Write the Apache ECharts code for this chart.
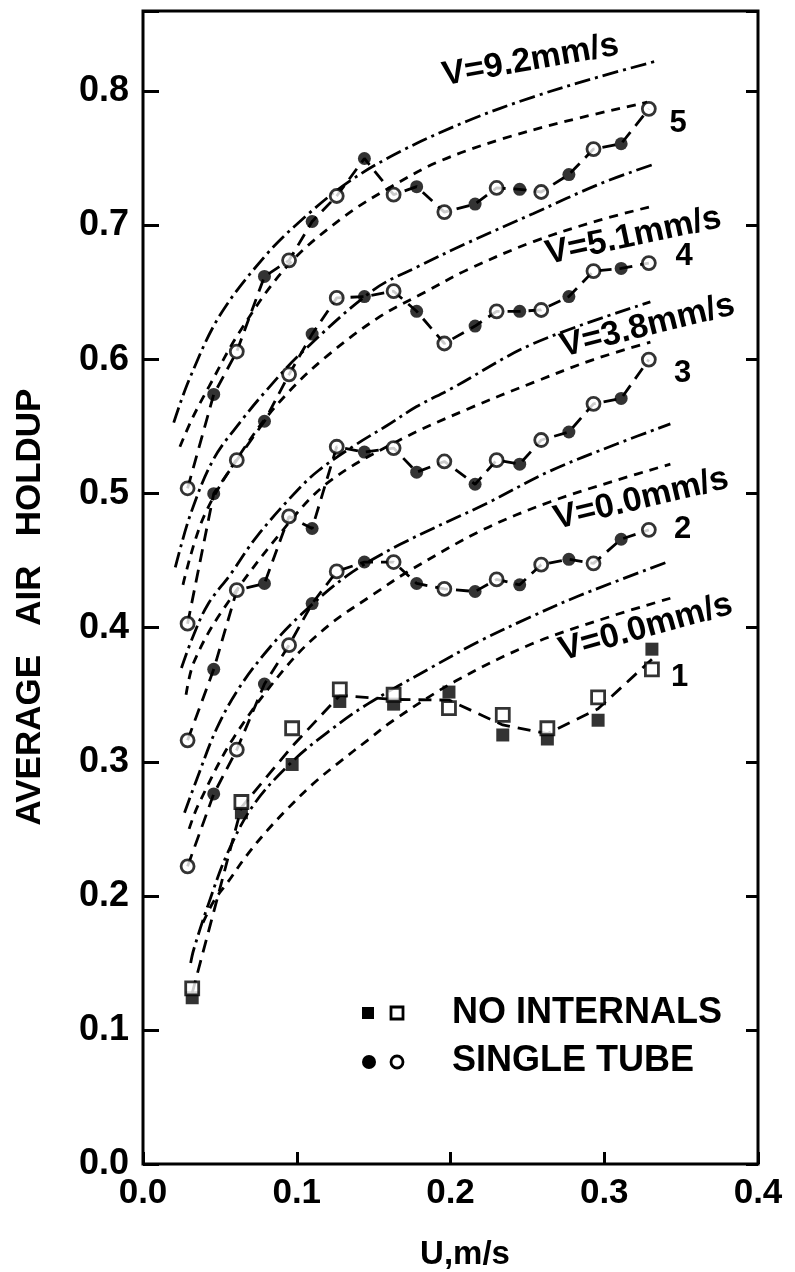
<!DOCTYPE html>
<html>
<head>
<meta charset="utf-8">
<title>Average air holdup</title>
<script src="https://cdn.jsdelivr.net/npm/echarts@6/dist/echarts.min.js"></script>
<style>
  html, body { margin: 0; padding: 0; background: #fff; }
  #chart { width: 795px; height: 1272px; }
</style>
</head>
<body>
<div id="chart"></div>
<script>
// superficial gas velocity U (m/s), single tube runs (sets 2-5)
const U = [0.029, 0.046, 0.061, 0.079, 0.095, 0.110, 0.126, 0.144, 0.163, 0.178,
           0.196, 0.216, 0.230, 0.245, 0.259, 0.277, 0.293, 0.311, 0.329];
// 1 = filled marker, 0 = open marker
const filledFlag = [0, 1, 0, 1, 0, 1, 0, 1, 0, 1, 0, 1, 0, 1, 0, 1, 0, 1, 0];

const holdup5 = [0.504, 0.574, 0.606, 0.662, 0.674, 0.703, 0.722, 0.750, 0.723, 0.729,
                 0.710, 0.716, 0.728, 0.727, 0.725, 0.738, 0.757, 0.761, 0.787];
const holdup4 = [0.403, 0.500, 0.525, 0.554, 0.589, 0.619, 0.646, 0.647, 0.651, 0.636,
                 0.612, 0.625, 0.636, 0.636, 0.637, 0.647, 0.666, 0.668, 0.672];
const holdup3 = [0.316, 0.369, 0.428, 0.433, 0.483, 0.474, 0.535, 0.531, 0.534, 0.516,
                 0.524, 0.507, 0.525, 0.522, 0.540, 0.546, 0.567, 0.571, 0.600];
const holdup2 = [0.222, 0.276, 0.309, 0.358, 0.387, 0.418, 0.442, 0.449, 0.449, 0.433,
                 0.429, 0.427, 0.436, 0.432, 0.447, 0.451, 0.448, 0.466, 0.473];

// no internals (set 1, squares)
const uNoInt = [0.032, 0.064, 0.097, 0.128, 0.163, 0.199, 0.234, 0.263, 0.296, 0.331];
const holdup1Hatched = [0.124, 0.262, 0.298, 0.345, 0.343, 0.352, 0.320, 0.317, 0.331, 0.384];
const holdup1Open    = [0.131, 0.270, 0.325, 0.354, 0.350, 0.340, 0.335, 0.325, 0.348, 0.369];

// model curves: dash-dot (upper) and dashed (lower) for each set
const dd5U = [0.020, 0.030, 0.050, 0.080, 0.104, 0.133, 0.167, 0.211, 0.254, 0.297, 0.335];
const dd5H = [0.553, 0.585, 0.633, 0.678, 0.705, 0.732, 0.755, 0.778, 0.796, 0.811, 0.823];
const ds5U = [0.024, 0.032, 0.043, 0.063, 0.094, 0.130, 0.163, 0.193, 0.232, 0.276, 0.328];
const ds5H = [0.535, 0.556, 0.580, 0.621, 0.670, 0.706, 0.730, 0.748, 0.764, 0.778, 0.792];

const dd4U = [0.021, 0.031, 0.046, 0.063, 0.081, 0.103, 0.150, 0.180, 0.211, 0.254, 0.297, 0.333];
const dd4H = [0.445, 0.485, 0.526, 0.553, 0.578, 0.605, 0.652, 0.670, 0.687, 0.709, 0.731, 0.746];
const ds4U = [0.026, 0.040, 0.070, 0.094, 0.120, 0.154, 0.183, 0.211, 0.254, 0.297, 0.330];
const ds4H = [0.432, 0.484, 0.541, 0.575, 0.603, 0.632, 0.650, 0.667, 0.688, 0.704, 0.714];

const dd3U = [0.025, 0.032, 0.042, 0.057, 0.074, 0.100, 0.115, 0.139, 0.159, 0.178, 0.200, 0.254, 0.330];
const dd3H = [0.370, 0.392, 0.417, 0.440, 0.468, 0.502, 0.518, 0.537, 0.551, 0.565, 0.578, 0.612, 0.643];
const ds3U = [0.028, 0.033, 0.050, 0.089, 0.120, 0.167, 0.211, 0.254, 0.293, 0.330];
const ds3H = [0.350, 0.374, 0.410, 0.470, 0.508, 0.540, 0.563, 0.583, 0.600, 0.613];

const dd2U = [0.027, 0.035, 0.048, 0.063, 0.083, 0.103, 0.133, 0.167, 0.224, 0.265, 0.308, 0.343];
const dd2H = [0.262, 0.287, 0.325, 0.356, 0.386, 0.410, 0.439, 0.462, 0.493, 0.517, 0.537, 0.552];
const ds2U = [0.030, 0.036, 0.059, 0.094, 0.120, 0.150, 0.174, 0.221, 0.265, 0.308, 0.343];
const ds2H = [0.250, 0.268, 0.318, 0.372, 0.401, 0.425, 0.443, 0.473, 0.494, 0.510, 0.522];

const dd1U = [0.031, 0.033, 0.042, 0.055, 0.072, 0.096, 0.120, 0.146, 0.187, 0.219, 0.252, 0.284, 0.341];
const dd1H = [0.150, 0.160, 0.192, 0.232, 0.268, 0.299, 0.322, 0.343, 0.370, 0.390, 0.408, 0.424, 0.449];
const ds1U = [0.039, 0.046, 0.055, 0.068, 0.081, 0.094, 0.111, 0.128, 0.146, 0.163, 0.203, 0.253, 0.303, 0.343];
const ds1H = [0.180, 0.196, 0.210, 0.231, 0.249, 0.265, 0.284, 0.300, 0.316, 0.331, 0.360, 0.388, 0.408, 0.422];

const curveLabels = ['V=9.2mm/s', 'V=5.1mm/s', 'V=3.8mm/s', 'V=0.0mm/s', 'V=0.0mm/s'];
const setLabels = ['5', '4', '3', '2', '1'];
const xTicks = ['0.0', '0.1', '0.2', '0.3', '0.4'];
const yTicks = ['0.0', '0.1', '0.2', '0.3', '0.4', '0.5', '0.6', '0.7', '0.8'];

const FONT = '"Liberation Sans", Arial, sans-serif';
const DASH_DOT = [16, 5, 3, 5];
const DASHED = [9, 7];
const LONG_DASH = [13, 8];

const chart = echarts.init(document.getElementById('chart'));

function pairs(xs, ys) {
  return xs.map((x, i) => [x, ys[i]]);
}

function curve(xs, ys, dash) {
  return {
    type: 'line', data: pairs(xs, ys), smooth: 0.35, symbol: 'none', silent: true,
    lineStyle: { color: '#000', width: 2.8, type: dash }, z: 2
  };
}

function joinLine(xs, ys) {
  return {
    type: 'line', data: pairs(xs, ys), symbol: 'none', silent: true,
    lineStyle: { color: '#000', width: 2.8, type: LONG_DASH }, z: 3
  };
}

function markers(xs, ys, flags, want, shape) {
  const pts = [];
  xs.forEach((x, i) => { if (flags[i] === want) pts.push([x, ys[i]]); });
  return {
    type: 'scatter', data: pts, symbol: shape, symbolSize: 13, silent: true, z: 5,
    itemStyle: want ? { color: '#000' } : { color: '#fff', borderColor: '#000', borderWidth: 2.8 }
  };
}

const series = [];
[[dd5U, dd5H, ds5U, ds5H], [dd4U, dd4H, ds4U, ds4H], [dd3U, dd3H, ds3U, ds3H],
 [dd2U, dd2H, ds2U, ds2H], [dd1U, dd1H, ds1U, ds1H]].forEach(c => {
  series.push(curve(c[0], c[1], DASH_DOT));
  series.push(curve(c[2], c[3], DASHED));
});

[holdup5, holdup4, holdup3, holdup2].forEach(h => {
  series.push(joinLine(U, h));
  series.push(markers(U, h, filledFlag, 0, 'circle'));
  series.push(markers(U, h, filledFlag, 1, 'circle'));
});

// set 1: pairs of squares, joined through their middle
const mid1 = holdup1Open.map((h, i) => (h + holdup1Hatched[i]) / 2);
series.push(joinLine(uNoInt, mid1));
series.push(markers(uNoInt, holdup1Hatched, uNoInt.map(() => 1), 1, 'rect'));
series.push(markers(uNoInt, holdup1Open, uNoInt.map(() => 0), 0, 'rect'));

// text on the plot, placed in data units
const curveLabelPos = [[0.252, 0.823, 10], [0.319, 0.692, 12], [0.328, 0.625, 14], [0.324, 0.496, 13.5], [0.327, 0.400, 15.5]];
const setLabelPos = [[0.348, 0.776], [0.352, 0.677], [0.351, 0.590], [0.351, 0.473], [0.349, 0.363]];

const textLabel = size => ({
  show: true, position: 'inside', formatter: p => p.name,
  fontFamily: FONT, fontWeight: 'bold', fontSize: size, color: '#000',
  textBorderWidth: 0, textBorderColor: 'transparent', opacity: 1
});

series.push({
  type: 'scatter', symbolSize: 1, silent: true, z: 6,
  itemStyle: { color: 'transparent' },
  data: curveLabels.map((t, i) => ({
    value: [curveLabelPos[i][0], curveLabelPos[i][1]], name: t,
    label: { rotate: curveLabelPos[i][2] }
  })),
  label: textLabel(34)
});
series.push({
  type: 'scatter', symbolSize: 1, silent: true, z: 6,
  itemStyle: { color: 'transparent' },
  data: setLabels.map((t, i) => ({ value: setLabelPos[i], name: t })),
  label: textLabel(31)
});

const tickFmt = v => {
  const k = Math.round(v * 10);
  return Math.abs(v * 10 - k) < 1e-6 ? (k / 10).toFixed(1) : '';
};

const option = {
  backgroundColor: '#fff',
  animation: false,
  grid: { left: 143, right: 37, top: 11, bottom: 108, show: true, borderColor: '#000', borderWidth: 3 },
  xAxis: {
    type: 'value', min: 0, max: 0.4, interval: 0.1,
    axisLine: { show: false },
    axisTick: { inside: true, length: 12, lineStyle: { color: '#000', width: 3 } },
    axisLabel: {
      margin: 12, color: '#000', fontFamily: FONT, fontWeight: 'bold', fontSize: 35,
      formatter: v => xTicks[Math.round(v * 10)] || ''
    },
    splitLine: { show: false }
  },
  yAxis: [
    {
      type: 'value', min: 0, max: 0.86, interval: 0.1,
      axisLine: { show: false },
      axisTick: { inside: true, length: 16, lineStyle: { color: '#000', width: 3 } },
      axisLabel: {
        margin: 14, color: '#000', fontFamily: FONT, fontWeight: 'bold', fontSize: 36,
        formatter: v => (tickFmt(v) ? yTicks[Math.round(v * 10)] : '')
      },
      splitLine: { show: false }
    },
    {
      type: 'value', position: 'right', min: 0, max: 0.86, interval: 0.1,
      axisLine: { show: false },
      axisTick: { inside: true, length: 12, lineStyle: { color: '#000', width: 3 } },
      axisLabel: { show: false },
      splitLine: { show: false }
    }
  ],
  graphic: [
    {
      type: 'text', x: 30, y: 607, rotation: Math.PI / 2,
      style: {
        text: 'AVERAGE   AIR   HOLDUP', fill: '#000', font: 'bold 35px ' + FONT,
        textAlign: 'center', textVerticalAlign: 'middle'
      }
    },
    {
      type: 'text', x: 465, y: 1255,
      style: {
        text: 'U,m/s', fill: '#000', font: 'bold 33px ' + FONT,
        textAlign: 'center', textVerticalAlign: 'middle'
      }
    },
    // legend
    { type: 'rect', shape: { x: 362, y: 1007, width: 12, height: 12 }, style: { fill: '#000' } },
    { type: 'rect', shape: { x: 391, y: 1007, width: 12, height: 12 }, style: { fill: '#fff', stroke: '#000', lineWidth: 2.8 } },
    { type: 'circle', shape: { cx: 369, cy: 1062, r: 7 }, style: { fill: '#000' } },
    { type: 'circle', shape: { cx: 397, cy: 1062, r: 6 }, style: { fill: '#fff', stroke: '#000', lineWidth: 2.8 } },
    {
      type: 'text', x: 452, y: 1013,
      style: { text: 'NO INTERNALS', fill: '#000', font: 'bold 36px ' + FONT, textVerticalAlign: 'middle' }
    },
    {
      type: 'text', x: 452, y: 1061,
      style: { text: 'SINGLE TUBE', fill: '#000', font: 'bold 36px ' + FONT, textVerticalAlign: 'middle' }
    }
  ],
  series: series.map(s => Object.assign({ xAxisIndex: 0, yAxisIndex: 0 }, s))
};

chart.setOption(option);
</script>
</body>
</html>
